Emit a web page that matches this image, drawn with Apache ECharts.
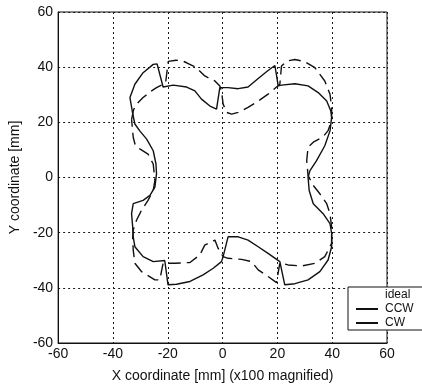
<!DOCTYPE html>
<html>
<head>
<meta charset="utf-8">
<script src="https://cdn.jsdelivr.net/npm/echarts@6/dist/echarts.min.js"></script>
<style>
  html, body { margin: 0; padding: 0; background: #fff; }
  #chart { width: 422px; height: 388px; }
</style>
</head>
<body>
<div id="chart"></div>
<script>
// Tracked contour, counter-clockwise run: [x, y] in mm (x100 magnified error)
const ccwPath = [
  [-32.8, 23.2], [-33.8, 29.0], [-32.0, 33.8], [-29.0, 38.0], [-25.3, 41.0], [-23.9, 41.2],
  [-21.7, 32.8], [-18.0, 33.5], [-13.1, 32.8], [-10.1, 31.4], [-7.7, 28.4], [-4.6, 25.9],
  [-2.2, 24.8], [-1.0, 32.6], [-0.4, 33.2], [2.0, 32.6], [5.7, 32.2], [9.3, 32.8],
  [13.0, 35.9], [16.6, 38.8], [19.1, 40.6], [20.3, 33.2], [21.5, 33.5], [26.4, 34.0],
  [31.2, 33.2], [34.9, 30.8], [38.0, 27.7], [39.5, 24.1], [39.8, 21.8], [39.2, 16.9],
  [37.3, 11.5], [34.3, 6.1], [31.9, 2.5], [31.2, 0.1], [31.6, -4.7], [33.1, -9.5],
  [36.7, -13.1], [39.2, -16.7], [39.8, -20.3], [39.8, -25.1], [38.5, -29.9], [35.5, -34.1],
  [31.2, -37.1], [26.4, -38.5], [22.7, -38.9], [20.9, -30.5], [16.6, -27.5], [13.0, -25.1],
  [9.3, -22.7], [5.7, -21.5], [2.0, -21.5], [0.2, -28.7], [-0.4, -30.5], [-3.4, -32.9],
  [-7.1, -35.3], [-11.9, -37.7], [-16.8, -38.7], [-19.9, -38.9], [-21.1, -30.1], [-25.3, -30.5],
  [-29.0, -28.7], [-32.0, -25.1], [-32.6, -21.5], [-32.8, -17.9], [-33.2, -13.1], [-32.6, -9.5],
  [-29.0, -8.3], [-26.5, -6.5], [-24.7, -3.5], [-24.1, 1.3], [-24.3, 4.9], [-25.3, 9.7],
  [-27.7, 13.9], [-30.2, 16.9], [-32.0, 19.4], [-32.8, 23.2]
];

// Tracked contour, clockwise run
const cwPath = [
  [-33.2, 21.0], [-32.5, 24.5], [-31.4, 26.6], [-29.0, 29.0], [-25.9, 31.4], [-24.1, 32.6],
  [-20.8, 34.3], [-19.8, 42.1], [-17.0, 42.5], [-15.0, 42.4], [-13.1, 41.6], [-9.5, 39.8],
  [-6.5, 36.8], [-2.8, 35.0], [-1.0, 33.2], [-0.4, 31.4], [0.2, 26.6], [1.5, 23.6],
  [3.3, 23.0], [5.7, 23.6], [9.3, 25.4], [13.0, 27.7], [16.6, 30.2], [20.9, 33.8],
  [21.5, 40.4], [23.4, 42.2], [26.4, 42.8], [30.0, 42.0], [33.7, 39.8], [37.3, 35.0],
  [39.2, 30.2], [39.8, 25.4], [39.8, 20.6], [38.5, 17.0], [36.7, 14.8], [33.1, 12.8],
  [31.2, 11.0], [30.7, 6.1], [31.2, 0.7], [33.1, -2.9], [35.5, -5.9], [38.0, -9.5],
  [39.2, -13.1], [39.8, -18.0], [39.8, -23.9], [37.3, -28.7], [33.7, -31.1], [28.8, -32.1],
  [23.9, -31.7], [20.9, -30.9], [19.7, -38.1], [16.6, -35.9], [13.0, -33.5], [10.6, -30.5],
  [6.9, -29.7], [2.0, -29.3], [0.2, -28.7], [-1.6, -25.7], [-2.8, -22.7], [-6.5, -24.5],
  [-8.3, -28.1], [-11.9, -30.8], [-17.4, -31.1], [-21.7, -31.1], [-22.9, -37.1], [-24.7, -37.1],
  [-29.6, -34.1], [-32.0, -31.1], [-32.6, -26.3], [-32.8, -22.0], [-32.6, -19.0], [-31.4, -15.5],
  [-29.6, -11.9], [-27.2, -8.3], [-25.3, -4.7], [-24.7, -1.1], [-25.3, 4.9], [-27.2, 8.5],
  [-30.2, 10.4], [-31.8, 11.5], [-32.6, 14.6], [-33.2, 21.0]
];

// Ideal path is listed in the legend only
const idealPath = [];

const seriesNames = ['ideal', 'CCW', 'CW'];
const axisMin = -60;
const axisMax = 60;
const axisStep = 20;

const FONT = "'Liberation Sans', Arial, sans-serif";
const INK = '#111';

const chart = echarts.init(document.getElementById('chart'), null, { renderer: 'canvas' });

const gridLine = { show: true, lineStyle: { color: '#1a1a1a', width: 1, type: [2, 3] } };

chart.setOption({
  animation: false,
  backgroundColor: '#fff',
  grid: {
    left: 58, top: 12, width: 329, height: 333,
    show: true, borderColor: INK, borderWidth: 1, backgroundColor: 'transparent'
  },
  xAxis: {
    type: 'value', min: axisMin, max: axisMax, interval: axisStep,
    name: 'X coordinate [mm] (x100 magnified)',
    nameLocation: 'middle', nameGap: 26,
    nameTextStyle: { fontFamily: FONT, fontSize: 14, color: INK },
    axisLine: { show: true, onZero: false, lineStyle: { color: INK, width: 1 } },
    axisTick: { show: false },
    axisLabel: { fontFamily: FONT, fontSize: 14, color: INK, margin: 4 },
    splitLine: gridLine
  },
  yAxis: {
    type: 'value', min: axisMin, max: axisMax, interval: axisStep,
    name: 'Y coordinate [mm]',
    nameLocation: 'middle', nameGap: 31,
    nameTextStyle: { fontFamily: FONT, fontSize: 14, color: INK },
    axisLine: { show: true, onZero: false, lineStyle: { color: INK, width: 1 } },
    axisTick: { show: false },
    axisLabel: { fontFamily: FONT, fontSize: 14, color: INK, margin: 5 },
    splitLine: gridLine
  },
  legend: {
    orient: 'vertical',
    left: 348, top: 287,
    padding: [2, 20, 1, 7],
    itemWidth: 22, itemHeight: 14, itemGap: 2,
    backgroundColor: '#fff',
    borderColor: INK, borderWidth: 1, borderRadius: 0,
    textStyle: { fontFamily: FONT, fontSize: 12, color: INK, padding: [0, 0, 0, 2] },
    data: [
      { name: seriesNames[0], itemStyle: { opacity: 0 }, lineStyle: { opacity: 0 } },
      { name: seriesNames[1], itemStyle: { opacity: 0 } },
      { name: seriesNames[2], itemStyle: { opacity: 0 }, lineStyle: { type: 'solid' } }
    ]
  },
  series: [
    {
      name: seriesNames[0], type: 'line', data: idealPath,
      symbol: 'none', lineStyle: { color: '#fff', width: 0 }
    },
    {
      name: seriesNames[1], type: 'line', data: ccwPath,
      symbol: 'none', showSymbol: false,
      lineStyle: { color: INK, width: 1.4 }, itemStyle: { color: INK }
    },
    {
      name: seriesNames[2], type: 'line', data: cwPath,
      symbol: 'none', showSymbol: false,
      lineStyle: { color: INK, width: 1.4, type: [12, 6] }, itemStyle: { color: INK }
    }
  ]
});
</script>
</body>
</html>
